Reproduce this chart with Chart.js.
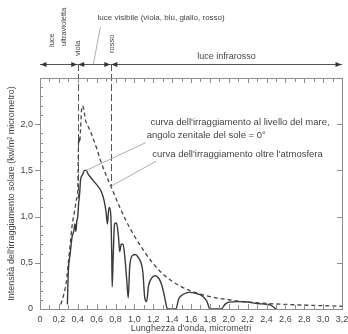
<!DOCTYPE html>
<html>
<head>
<meta charset="utf-8">
<script src="https://cdn.jsdelivr.net/npm/chart.js@4/dist/chart.umd.min.js"></script>
<style>
  html, body { margin: 0; padding: 0; background: #fff; }
  #wrap { width: 348px; height: 334px; }
</style>
</head>
<body>
<div id="wrap"><canvas id="c" width="348" height="334"></canvas></div>
<script>
// sea level curve (sun at zenith)
const seaX = [0.29, 0.30, 0.32, 0.34, 0.36, 0.37, 0.38, 0.39, 0.40, 0.41, 0.42, 0.43, 0.45, 0.47, 0.49, 0.51, 0.54, 0.58, 0.62, 0.65, 0.68, 0.70, 0.715, 0.725, 0.735, 0.75, 0.76, 0.765, 0.775, 0.79, 0.81, 0.83, 0.845, 0.86, 0.88, 0.90, 0.92, 0.935, 0.95, 0.98, 1.01, 1.04, 1.07, 1.09, 1.11, 1.13, 1.15, 1.18, 1.22, 1.26, 1.29, 1.31, 1.33, 1.35, 1.44, 1.47, 1.52, 1.58, 1.65, 1.72, 1.77, 1.80, 1.92, 1.96, 2.0, 2.1, 2.2, 2.3, 2.4, 2.45, 2.5];
const seaY = [0.05, 0.40, 0.60, 0.78, 0.85, 0.92, 0.84, 0.95, 1.00, 1.15, 1.25, 1.40, 1.45, 1.50, 1.50, 1.46, 1.42, 1.37, 1.32, 1.27, 1.17, 1.05, 0.92, 1.05, 1.10, 1.02, 0.60, 0.24, 0.55, 0.92, 0.93, 0.80, 0.62, 0.70, 0.70, 0.55, 0.30, 0.12, 0.45, 0.58, 0.59, 0.56, 0.50, 0.40, 0.12, 0.08, 0.25, 0.33, 0.36, 0.33, 0.26, 0.18, 0.08, 0.0, 0.0, 0.11, 0.16, 0.18, 0.17, 0.14, 0.08, 0.0, 0.0, 0.05, 0.075, 0.08, 0.075, 0.06, 0.05, 0.04, 0.0];

// outside the atmosphere
const spaceX = [0.22, 0.25, 0.28, 0.30, 0.32, 0.34, 0.37, 0.39, 0.40, 0.405, 0.41, 0.42, 0.43, 0.44, 0.45, 0.46, 0.47, 0.48, 0.50, 0.55, 0.60, 0.65, 0.70, 0.75, 0.80, 0.85, 0.90, 0.95, 1.0, 1.1, 1.2, 1.3, 1.4, 1.5, 1.6, 1.7, 1.8, 1.9, 2.0, 2.2, 2.4, 2.6, 2.8, 3.0, 3.2];
const spaceY = [0.05, 0.15, 0.30, 0.50, 0.70, 0.90, 1.08, 1.20, 1.25, 1.60, 1.85, 1.80, 1.95, 2.15, 2.20, 2.18, 2.12, 2.05, 2.00, 1.88, 1.74, 1.58, 1.45, 1.33, 1.21, 1.09, 0.98, 0.88, 0.79, 0.63, 0.49, 0.38, 0.30, 0.24, 0.195, 0.16, 0.135, 0.115, 0.10, 0.075, 0.06, 0.05, 0.042, 0.036, 0.03];

const xTickLabels = ['0', '0,2', '0,4', '0,6', '0,8', '1,0', '1,2', '1,4', '1,6', '1,8', '2,0', '2,2', '2,4', '2,6', '2,8', '3,0', '3,2'];
const yTickLabels = ['0', '0,5', '1,0', '1,5', '2,0'];

// spectral bands along the top
const bandEdges = [0, 0.4, 0.75, 3.2];
const edgeStops = [1.2, 1.33];

const FONT = '"Liberation Sans", Arial, sans-serif';
const textColor = '#444';
const frameColor = '#8e8e8e';

function head(ctx, tip, y, dir) {
  ctx.beginPath();
  ctx.moveTo(tip, y);
  ctx.lineTo(tip - dir * 6, y - 2.5);
  ctx.lineTo(tip - dir * 6, y + 2.5);
  ctx.closePath();
  ctx.fill();
}

const decor = {
  id: 'decor',
  beforeDatasetsDraw(chart) {
    const { ctx, chartArea: a, scales: { x, y } } = chart;
    const arrowY = a.top - 14;
    ctx.save();
    ctx.strokeStyle = '#555';
    ctx.lineWidth = 1;
    ctx.setLineDash([7, 3]);
    [bandEdges[1], bandEdges[2]].forEach((e, i) => {
      const px = Math.round(x.getPixelForValue(e)) + 0.5;
      ctx.beginPath();
      ctx.moveTo(px, arrowY);
      ctx.lineTo(px, y.getPixelForValue(edgeStops[i]));
      ctx.stroke();
    });
    ctx.restore();
  },
  afterDatasetsDraw(chart) {
    const { ctx, chartArea: a, scales: { x, y } } = chart;
    ctx.save();

    // frame
    ctx.strokeStyle = frameColor;
    ctx.lineWidth = 1;
    ctx.strokeRect(Math.round(a.left) + 0.5, Math.round(a.top) + 0.5, Math.round(a.right - a.left), Math.round(a.bottom - a.top));

    // ticks
    ctx.beginPath();
    for (let i = 0; i <= 32; i++) {
      const px = Math.round(x.getPixelForValue(i / 10)) + 0.5;
      const len = i % 2 === 0 ? 5 : 4;
      ctx.moveTo(px, a.bottom);
      ctx.lineTo(px, a.bottom - len);
      ctx.moveTo(px, a.top);
      ctx.lineTo(px, a.top + len);
    }
    for (let i = 1; i <= 24; i++) {
      const py = Math.round(y.getPixelForValue(i / 10)) + 0.5;
      if (i % 5 === 0) {
        ctx.moveTo(a.left - 5, py);
        ctx.lineTo(a.left, py);
        ctx.moveTo(a.right, py);
        ctx.lineTo(a.right - 5, py);
      } else {
        ctx.moveTo(a.left, py);
        ctx.lineTo(a.left + 3, py);
      }
    }
    ctx.stroke();

    // band arrows
    const arrowY = Math.round(a.top - 14) + 0.5;
    ctx.strokeStyle = '#555';
    ctx.fillStyle = '#333';
    for (let i = 0; i < bandEdges.length - 1; i++) {
      const p0 = x.getPixelForValue(bandEdges[i]);
      const p1 = x.getPixelForValue(bandEdges[i + 1]);
      ctx.beginPath();
      ctx.moveTo(p0, arrowY);
      ctx.lineTo(p1, arrowY);
      ctx.stroke();
      head(ctx, p0 + 0.5, arrowY, -1);
      head(ctx, p1 - 0.5, arrowY, 1);
    }

    // pointer lines
    ctx.strokeStyle = '#9a9a9a';
    ctx.lineWidth = 0.8;
    const ptr = (x0, y0, x1, y1) => {
      ctx.beginPath();
      ctx.moveTo(x0, y0);
      ctx.lineTo(x1, y1);
      ctx.stroke();
    };
    ptr(x.getPixelForValue(0.64), a.top - 51, x.getPixelForValue(0.565), arrowY);
    ptr(x.getPixelForValue(1.12), y.getPixelForValue(1.80), x.getPixelForValue(0.49), y.getPixelForValue(1.50));
    ptr(x.getPixelForValue(1.23), y.getPixelForValue(1.60), x.getPixelForValue(0.755), y.getPixelForValue(1.33));

    // texts
    ctx.fillStyle = textColor;
    ctx.textBaseline = 'middle';
    ctx.textAlign = 'left';
    ctx.font = '8px ' + FONT;
    ctx.fillText('luce visibile (viola, blu, giallo, rosso)', x.getPixelForValue(0.61), a.top - 60);
    ctx.font = '9px ' + FONT;
    ctx.textAlign = 'center';
    ctx.fillText('luce infrarosso', x.getPixelForValue((bandEdges[2] + bandEdges[3]) / 2), a.top - 21);
    ctx.textAlign = 'left';
    ctx.font = '9.5px ' + FONT;
    ctx.fillText("curva dell'irraggiamento al livello del mare,", x.getPixelForValue(1.17), y.getPixelForValue(2.02));
    ctx.fillText('angolo zenitale del sole = 0°', x.getPixelForValue(1.13), y.getPixelForValue(1.88));
    ctx.fillText("curva dell'irraggiamento oltre l'atmosfera", x.getPixelForValue(1.19), y.getPixelForValue(1.67));

    // vertical band labels
    ctx.font = '7.5px ' + FONT;
    const vtext = (str, px, bottom) => {
      ctx.save();
      ctx.translate(px, bottom);
      ctx.rotate(-Math.PI / 2);
      ctx.textAlign = 'left';
      ctx.fillText(str, 0, 0);
      ctx.restore();
    };
    const uv = x.getPixelForValue((bandEdges[0] + bandEdges[1]) / 2);
    vtext('luce', uv - 7, a.top - 31);
    vtext('ultravioletta', uv + 5, a.top - 32);
    vtext('viola', x.getPixelForValue(bandEdges[1]), a.top - 22);
    vtext('rosso', x.getPixelForValue(bandEdges[2]) + 1, a.top - 25);

    ctx.restore();
  }
};

const toPts = (xs, ys) => xs.map((v, i) => ({ x: v, y: ys[i] }));

new Chart(document.getElementById('c'), {
  type: 'line',
  data: {
    datasets: [
      {
        label: 'livello del mare',
        data: toPts(seaX, seaY),
        borderColor: '#3a3a3a',
        borderWidth: 1.4,
        pointRadius: 0,
        cubicInterpolationMode: 'monotone',
        fill: false
      },
      {
        label: "oltre l'atmosfera",
        data: toPts(spaceX, spaceY),
        borderColor: '#444',
        borderWidth: 1.3,
        borderDash: [4, 3],
        pointRadius: 0,
        cubicInterpolationMode: 'monotone',
        fill: false
      }
    ]
  },
  options: {
    responsive: false,
    animation: false,
    devicePixelRatio: 1,
    layout: { padding: { left: 0, right: 6, top: 78, bottom: 0 } },
    plugins: { legend: { display: false }, tooltip: { enabled: false } },
    scales: {
      x: {
        type: 'linear',
        min: 0,
        max: 3.2,
        border: { display: false },
        grid: { display: false, drawTicks: false },
        ticks: {
          stepSize: 0.2,
          autoSkip: false,
          maxRotation: 0,
          padding: 5,
          color: textColor,
          font: { family: FONT, size: 9 },
          callback: (v, i) => xTickLabels[i] ?? ''
        },
        title: {
          display: true,
          text: "Lunghezza d'onda, micrometri",
          color: textColor,
          font: { family: FONT, size: 9 },
          padding: { top: 0, bottom: 0 }
        },
        afterFit: s => { s.height = 25; s.paddingLeft = 0; s.paddingRight = 0; }
      },
      y: {
        min: 0,
        max: 2.5,
        border: { display: false },
        grid: { display: false, drawTicks: false },
        ticks: {
          stepSize: 0.5,
          padding: 7,
          color: textColor,
          font: { family: FONT, size: 9 },
          callback: (v, i) => yTickLabels[i] ?? ''
        },
        title: {
          display: true,
          text: "Intensità dell'irraggiamento solare (kw/m² micrometro)",
          color: textColor,
          font: { family: FONT, size: 9 },
          padding: { top: 6.5, bottom: 0 }
        },
        afterFit: s => { s.width = 40; s.paddingTop = 0; s.paddingBottom = 0; }
      }
    }
  },
  plugins: [decor]
});
</script>
</body>
</html>
